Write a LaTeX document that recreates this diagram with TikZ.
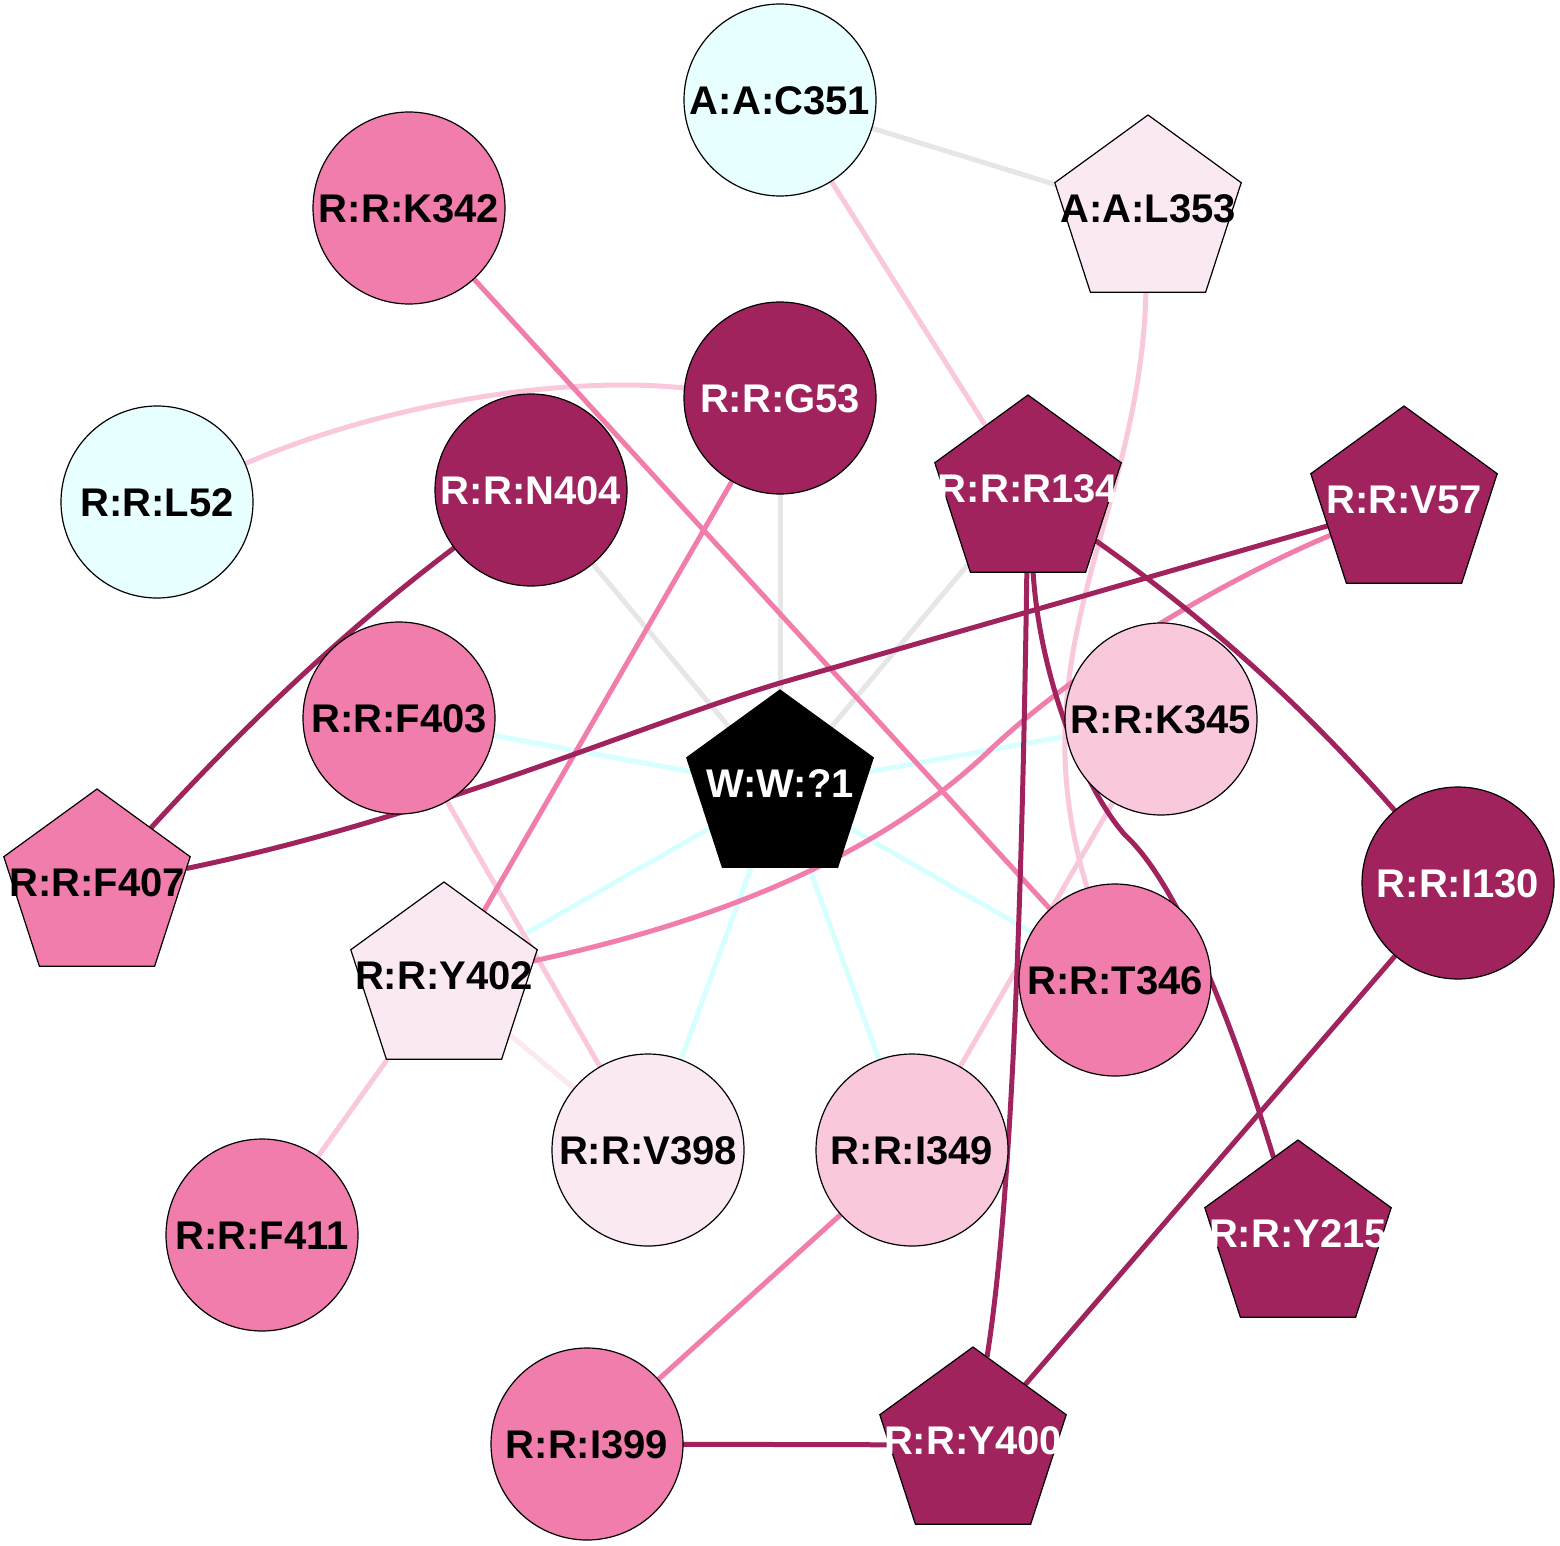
\documentclass[tikz,border=0pt]{standalone}
\usepackage{fontspec}
\setmainfont{Liberation Sans}
\usetikzlibrary{shapes.geometric}
\pgfdeclarelayer{bg}
\pgfsetlayers{bg,main}
\definecolor{cdark}{HTML}{A0235E}
\definecolor{cpink}{HTML}{F07DAB}
\definecolor{clight}{HTML}{F9C8DD}
\definecolor{cvlight}{HTML}{FAE9F2}
\definecolor{ccyan}{HTML}{E8FFFF}
\definecolor{ecyan}{HTML}{D8FFFF}
\definecolor{egray}{HTML}{E6E6E6}
\newcommand{\lbl}[1]{\makebox[0pt]{#1}}
\begin{document}
\begin{tikzpicture}[x=1pt,y=-1pt,
  res/.style={draw=black, line width=1.2pt, inner sep=0pt, outer sep=0pt,
    font=\fontsize{40}{48}\selectfont\bfseries},
  circ/.style={res, circle, minimum size=192pt, text height=28.6pt, text depth=0pt},
  pent/.style={res, regular polygon, regular polygon sides=5, minimum size=196pt,
    text height=28.6pt, text depth=10pt},
  fdark/.style={fill=cdark, text=white},
  fpink/.style={fill=cpink, text=black},
  flight/.style={fill=clight, text=black},
  fvlight/.style={fill=cvlight, text=black},
  fcyan/.style={fill=ccyan, text=black},
  fblack/.style={fill=black, text=white},
  edge/.style={line width=5pt},
  egrayl/.style={edge, draw=egray},
  ecyanl/.style={edge, draw=ecyan},
  evlightl/.style={edge, draw=cvlight},
  elightl/.style={edge, draw=clight},
  epinkl/.style={edge, draw=cpink},
  edarkl/.style={edge, draw=cdark}]
\useasboundingbox (0,0) rectangle (1560,1546);
% nodes
\node[circ, fcyan]   (C351) at (780,100)  {A:A:C351};
\node[circ, fpink]   (K342) at (409,208)  {R:R:K342};
\node[pent, fvlight] (L353) at (1148,213) {\lbl{A:A:L353}};
\node[circ, fdark]   (G53)  at (780,398)  {R:R:G53};
\node[circ, fcyan]   (L52)  at (157,502)  {R:R:L52};
\node[circ, fdark]   (N404) at (531,490)  {R:R:N404};
\node[pent, fdark]   (R134) at (1028,493) {\lbl{R:R:R134}};
\node[pent, fdark]   (V57)  at (1404,504) {\lbl{R:R:V57}};
\node[circ, fpink]   (F403) at (399,718)  {R:R:F403};
\node[circ, flight]  (K345) at (1161,719) {R:R:K345};
\node[pent, fblack]  (W)    at (780,788)  {\lbl{W:W:?1}};
\node[pent, fpink]   (F407) at (97,887)   {\lbl{R:R:F407}};
\node[circ, fdark]   (I130) at (1458,883) {R:R:I130};
\node[pent, fvlight] (Y402) at (444,980)  {\lbl{R:R:Y402}};
\node[circ, fpink]   (T346) at (1115,980) {R:R:T346};
\node[circ, fvlight] (V398) at (648,1150) {R:R:V398};
\node[circ, flight]  (I349) at (912,1150) {R:R:I349};
\node[circ, fpink]   (F411) at (262,1235) {R:R:F411};
\node[pent, fdark]   (Y215) at (1298,1238) {\lbl{R:R:Y215}};
\node[circ, fpink]   (I399) at (587,1444) {R:R:I399};
\node[pent, fdark]   (Y400) at (973,1445) {\lbl{R:R:Y400}};
\coordinate (c1) at (1125,835);
\coordinate (c2) at (990,750);
\coordinate (c3) at (780,683);
% edges
\begin{pgfonlayer}{bg}
\draw[egrayl] (C351) -- (L353);
\draw[egrayl] (G53) -- (W);
\draw[egrayl] (N404) -- (W);
\draw[egrayl] (R134) -- (W);
\draw[ecyanl] (F403) -- (W);
\draw[ecyanl] (W) -- (K345);
\draw[ecyanl] (W) -- (Y402);
\draw[ecyanl] (W) -- (V398);
\draw[ecyanl] (W) -- (I349);
\draw[ecyanl] (W) -- (T346);
\draw[evlightl] (Y402) -- (V398);
\draw[elightl] (C351) -- (R134);
\draw[elightl] (L353) .. controls (1140,520) and (1015,650) .. (T346);
\draw[elightl] (G53) .. controls (560,375) and (380,405) .. (L52);
\draw[elightl] (F403) -- (V398);
\draw[elightl] (K345) -- (I349);
\draw[elightl] (Y402) -- (F411);
\draw[epinkl] (K342) -- (T346);
\draw[epinkl] (G53) -- (Y402);
\draw[epinkl] (V57) .. controls (1206,588) and (1070,674) .. (c2)
   .. controls (880,855) and (720,921) .. (Y402);
\draw[epinkl] (I349) -- (I399);
\draw[edarkl] (N404) .. controls (345,630) and (245,725) .. (F407);
\draw[edarkl] (R134) .. controls (1022,900) and (1012,1200) .. (Y400);
\draw[edarkl] (R134) .. controls (1040,680) and (1085,790) .. (c1)
   .. controls (1185,890) and (1243,1057) .. (Y215);
\draw[edarkl] (R134) .. controls (1207,619) and (1306,709) .. (I130);
\draw[edarkl] (V57) -- (c3) .. controls (640,725) and (430,818) .. (F407);
\draw[edarkl] (I399) -- (Y400);
\draw[edarkl] (I130) -- (Y400);
\end{pgfonlayer}
\end{tikzpicture}
\end{document}
